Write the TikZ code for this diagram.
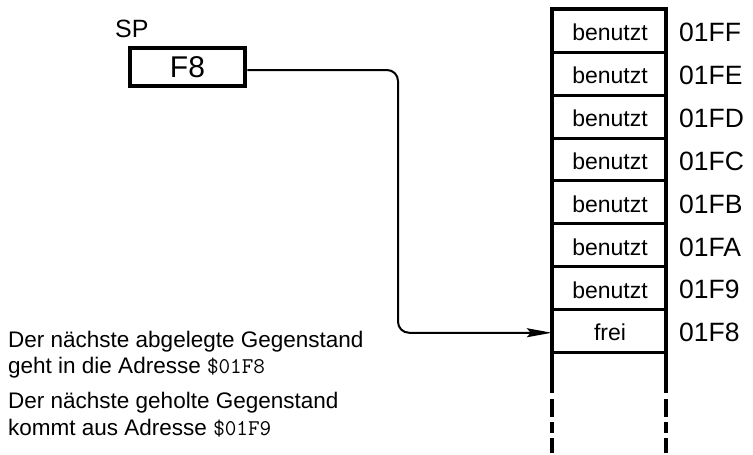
\documentclass[tikz,border=0pt]{standalone}
\usepackage{fontspec}
\setmainfont{Liberation Sans}
\usetikzlibrary{arrows.meta,calc}
\tikzset{
  wall/.style={line width=4.5pt},
  rowline/.style={line width=3pt},
  cell/.style={minimum width=114pt, minimum height=42.9pt, inner sep=0pt, font=\fontsize{23}{26}\selectfont},
  addr/.style={anchor=west, inner sep=0pt, font=\fontsize{26.5}{30}\selectfont},
  spbox/.style={draw, line width=4.5pt, minimum width=115pt, minimum height=38pt, inner sep=0pt, font=\fontsize{30}{34}\selectfont},
  ptr/.style={line width=2pt, rounded corners=11pt, -{Stealth[length=25pt,width=9pt,inset=4pt]}},
  note/.style={anchor=base west, inner sep=0pt, font=\fontsize{22.5}{26}\selectfont}
}
\begin{document}
\begin{tikzpicture}[x=1pt,y=-1pt]
\useasboundingbox (0,0) rectangle (753,455);
% SP register
\node[anchor=base west, inner sep=0pt, font=\fontsize{25}{28}\selectfont] (splabel) at (115,37) {SP};
\node[spbox] (sp) at (187.5,67) {F8};
% stack cells
\foreach \i/\t/\a in {1/benutzt/01FF,2/benutzt/01FE,3/benutzt/01FD,4/benutzt/01FC,5/benutzt/01FB,6/benutzt/01FA,7/benutzt/01F9,8/frei/01F8}{
  \node[cell] (r\i) at (610, 11+42.9*\i-21.45) {\t};
  \node[addr] (a\i) at (679, 11+42.9*\i-21.45) {\a};
}
% walls
\draw[wall] (552,7) -- (552,393);
\draw[wall] (666,7) -- (666,393);
\draw[wall] (550,9) -- (668,9);
\foreach \y in {52,95,138,180,223,266,309,352}{
  \draw[rowline] (552,\y) -- (666,\y);
}
% dashed continuation
\foreach \x in {552,666}{
  \draw[wall] (\x,399) -- (\x,417);
  \draw[wall] (\x,422) -- (\x,433);
  \draw[wall] (\x,438) -- (\x,453);
}
% pointer arrow
\coordinate (bend) at (398,70);
\draw[ptr] (sp.east |- bend) -- (bend) -- (bend |- r8.west) -- ($(r8.west)+(-1,0)$);
% notes
\node[note] (n1) at (8,347) {Der nächste abgelegte Gegenstand};
\node[note] (n2) at (8,373) {geht in die Adresse {\ttfamily\$01F8}};
\node[note] (n3) at (8,408) {Der nächste geholte Gegenstand};
\node[note] (n4) at (8,435) {kommt aus Adresse {\ttfamily\$01F9}};
\end{tikzpicture}
\end{document}
